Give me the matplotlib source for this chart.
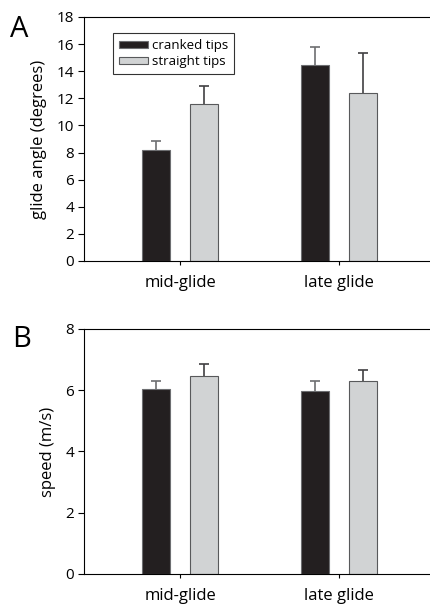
import numpy as np
from matplotlib import pyplot as plt

plt.rcParams['font.family'] = ['Open Sans', 'DejaVu Sans']

groups = ['mid-glide', 'late glide']
series = ['cranked tips', 'straight tips']

angle_cranked = [8.17, 14.45]
angle_cranked_err = [0.68, 1.37]
angle_straight = [11.6, 12.37]
angle_straight_err = [1.33, 3.0]

speed_cranked = [6.05, 5.97]
speed_cranked_err = [0.25, 0.33]
speed_straight = [6.46, 6.31]
speed_straight_err = [0.39, 0.35]

black = '#231f20'
grey = '#d1d3d4'


def bars(ax, x, vals, err, color, edge, ecolor, label):
    ax.bar(x, vals, 0.18, color=color, edgecolor=edge, linewidth=0.8,
           label=label, zorder=2)
    _, caps, _ = ax.errorbar(x, vals, yerr=[np.zeros(len(x)), err], fmt='none',
                             ecolor=ecolor, elinewidth=1.2, capsize=3.5,
                             capthick=1.2, zorder=1)
    caps[0].set_visible(False)


def draw_panel(ax, cranked, cranked_err, straight, straight_err, ymax, ystep, ylabel):
    x = np.arange(1, len(groups) + 1)
    off = 0.151
    bars(ax, x - off, cranked, cranked_err, black, '#6d6e71', '#6d6e71', series[0])
    bars(ax, x + off, straight, straight_err, grey, '#58595b', '#414042', series[1])
    ax.set_xlim(0.396, 2.572)
    ax.set_ylim(0, ymax)
    ax.set_yticks(np.arange(0, ymax + 0.1, ystep))
    ax.set_xticks(x)
    ax.set_xticklabels(groups, fontsize=12)
    ax.tick_params(axis='y', labelsize=11, length=4, width=0.8, pad=3)
    ax.tick_params(axis='x', length=3, width=0.8, pad=7)
    ax.spines['right'].set_visible(False)
    for s in ['left', 'top', 'bottom']:
        ax.spines[s].set_linewidth(0.8)
    ax.set_ylabel(ylabel, fontsize=12, labelpad=7)


fig = plt.figure(figsize=(4.3, 6.04), dpi=100)
ax1 = fig.add_axes([0.1953, 0.5679, 0.8047, 0.404])
ax2 = fig.add_axes([0.1953, 0.0497, 0.8047, 0.4056])

draw_panel(ax1, angle_cranked, angle_cranked_err, angle_straight, angle_straight_err,
           18, 2, 'glide angle (degrees)')
draw_panel(ax2, speed_cranked, speed_cranked_err, speed_straight, speed_straight_err,
           8, 2, 'speed (m/s)')

leg = ax1.legend(loc='upper left', bbox_to_anchor=(0.084, 0.934), fontsize=9.5,
                 frameon=True, fancybox=False, edgecolor='black', borderpad=0.45,
                 handlelength=2.2, handleheight=0.5, handletextpad=0.3,
                 labelspacing=0.25, borderaxespad=0)
leg.get_frame().set_linewidth(0.8)

fig.text(0.023, 0.975, 'A', fontsize=21, va='top', ha='left')
fig.text(0.028, 0.462, 'B', fontsize=21, va='top', ha='left')

fig.savefig('out.png', dpi=100)
